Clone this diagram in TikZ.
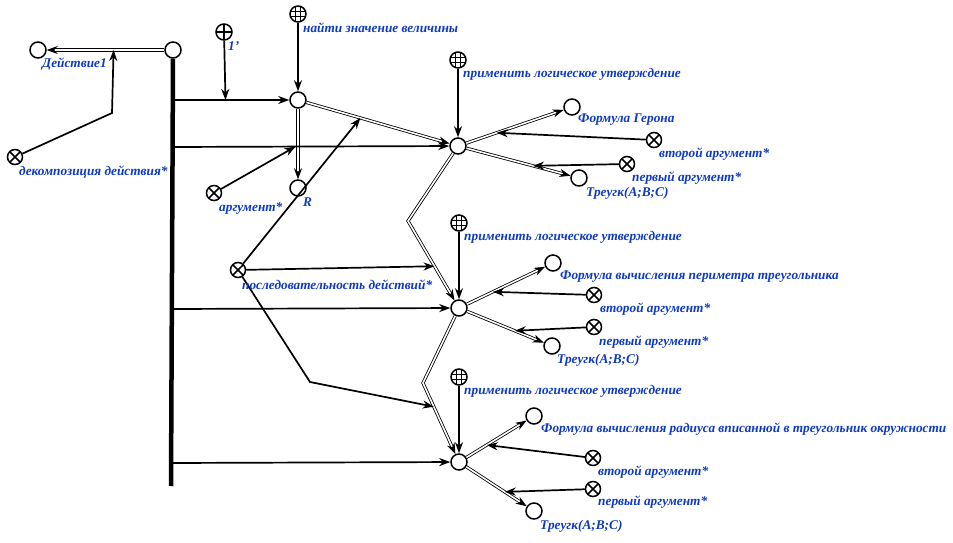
\documentclass[tikz,border=0pt]{standalone}
\usepackage{fontspec}
\setmainfont{Liberation Serif}
\usetikzlibrary{arrows.meta,calc}
\definecolor{lblblue}{RGB}{14,58,190}

\begin{document}
\begin{tikzpicture}[x=1pt, y=-1pt,
    >={Stealth[length=11pt,width=8pt,inset=3.5pt]},
    pt/.style={circle, draw=black, line width=1.5pt, fill=white, minimum size=16pt, inner sep=0pt},
    op/.style={pt, minimum size=15pt, path picture={
        \draw[line width=1.5pt] ([shift={(45:9pt)}]path picture bounding box.center) -- ([shift={(225:9pt)}]path picture bounding box.center);
        \draw[line width=1.5pt] ([shift={(135:9pt)}]path picture bounding box.center) -- ([shift={(315:9pt)}]path picture bounding box.center);}},
    pl/.style={pt, path picture={
        \draw[line width=1.2pt] (path picture bounding box.north) -- (path picture bounding box.south);
        \draw[line width=1.2pt] (path picture bounding box.west) -- (path picture bounding box.east);}},
    gr/.style={pt, path picture={
        \foreach \k in {-2.7,2.7} {
          \draw[line width=1pt] ([xshift=\k pt]path picture bounding box.north) -- ([xshift=\k pt]path picture bounding box.south);
          \draw[line width=1pt] ([yshift=\k pt]path picture bounding box.west) -- ([yshift=\k pt]path picture bounding box.east);}}},
    lbl/.style={text=lblblue, font=\bfseries\itshape\fontsize{13.3}{15}\selectfont, anchor=west, inner sep=0pt},
    lnk/.style={draw=black, line width=1.7pt, ->},
    dbl/.style={draw=black, line width=0.8pt, double=white, double distance=1.6pt, ->}]
  \useasboundingbox (0,0) rectangle (953,543);

  % points
  \node[pt] (root) at (173,50) {};
  \node[pt] (act) at (38,50) {};
  \node[op] (dec) at (15,157) {};
  \node[pl] (one) at (224,32) {};
  \node[gr] (find) at (298,14) {};
  \node[pt] (a) at (298,100) {};
  \node[pt] (r) at (298,188) {};
  \node[op] (arg) at (214,193) {};
  \node[op] (seq) at (238,270) {};

  \node[gr] (gb) at (458,60) {};
  \node[pt] (b) at (458,146) {};
  \node[pt] (her) at (572,107) {};
  \node[op] (b2) at (654,140) {};
  \node[op] (b1) at (627,164) {};
  \node[pt] (tb) at (579,178) {};

  \node[gr] (gc) at (459,223) {};
  \node[pt] (c) at (459,308) {};
  \node[pt] (per) at (553,263) {};
  \node[op] (c2) at (594,295) {};
  \node[op] (c1) at (594,327) {};
  \node[pt] (tc) at (552,346) {};

  \node[gr] (gd) at (459,377) {};
  \node[pt] (d) at (459,462) {};
  \node[pt] (rad) at (534,416) {};
  \node[op] (d2) at (593,458) {};
  \node[op] (d1) at (593,489) {};
  \node[pt] (td) at (534,511) {};

  % bar
  \coordinate (bot) at (171,486);
  \coordinate (h1) at (173,100);
  \coordinate (h2) at (173,147);
  \coordinate (h3) at (172,309);
  \coordinate (h4) at (171,463);
  \draw[line width=4.5pt] (root.south) -- (bot);

  % bends
  \coordinate (kd) at (112,113);
  \coordinate (kb) at (408,221);
  \coordinate (kc) at (423,383);
  \coordinate (ks) at (310,382);

  % double lines
  \path[dbl] (root) -- (act);
  \path[dbl] (a) -- (r);
  \path[dbl] (a) -- (b);
  \path[dbl] (b) -- (her);
  \path[dbl] (b) -- (tb);
  \path[dbl] (b) -- (kb) -- (c);
  \path[dbl] (c) -- (per);
  \path[dbl] (c) -- (tc);
  \path[dbl] (c) -- (kc) -- (d);
  \path[dbl] (d) -- (rad);
  \path[dbl] (d) -- (td);

  % ends on lines
  \coordinate (t0) at ($(root)!0.44!(act)$);
  \coordinate (t1) at ($(h1)!0.42!(a)$);
  \coordinate (t2) at ($(h2)!0.43!(b)$);
  \coordinate (t3) at ($(a)!0.39!(b)$);
  \coordinate (t4) at ($(kb)!0.52!(c)$);
  \coordinate (t5) at ($(kc)!0.3!(d)$);

  \path[lnk] (dec) -- (kd) -- (t0);
  \path[lnk] (one) -- (t1);
  \path[lnk] (find) -- (a);
  \path[lnk] (h1) -- (a);
  \path[lnk] (h2) -- (b);
  \path[lnk] (h3) -- (c);
  \path[lnk] (h4) -- (d);
  \path[lnk] (arg) -- (t2);
  \path[lnk] (seq) -- (t3);
  \path[lnk] (seq) -- (t4);
  \path[lnk] (seq) -- (ks) -- (t5);
  \path[lnk] (gb) -- (b);
  \path[lnk] (gc) -- (c);
  \path[lnk] (gd) -- (d);
  \path[lnk] (b2) -- ($(b)!0.34!(her)$);
  \path[lnk] (b1) -- ($(b)!0.62!(tb)$);
  \path[lnk] (c2) -- ($(c)!0.36!(per)$);
  \path[lnk] (c1) -- ($(c)!0.6!(tc)$);
  \path[lnk] (d2) -- ($(d)!0.37!(rad)$);
  \path[lnk] (d1) -- ($(d)!0.61!(td)$);

  % labels
  \node[lbl] (lact) at (42,64) {Действие1};
  \node[lbl] (ldec) at (19,172) {декомпозиция действия*};
  \node[lbl] (lone) at (228,46) {1’};
  \node[lbl] (lfind) at (303,28) {найти значение величины};
  \node[lbl] (lr) at (303,202) {R};
  \node[lbl] (larg) at (219,209) {аргумент*};
  \node[lbl] (lseq) at (242,285) {последовательность действий*};
  \node[lbl] (lgb) at (463,74) {применить логическое утверждение};
  \node[lbl] (lher) at (578,120) {Формула Герона};
  \node[lbl] (lb2) at (659,154) {второй аргумент*};
  \node[lbl] (lb1) at (632,178) {первый аргумент*};
  \node[lbl] (ltb) at (586,193) {Треугк(A;B;C)};
  \node[lbl] (lgc) at (464,237) {применить логическое утверждение};
  \node[lbl] (lper) at (560,277) {Формула вычисления периметра треугольника};
  \node[lbl] (lc2) at (600,309) {второй аргумент*};
  \node[lbl] (lc1) at (599,342) {первый аргумент*};
  \node[lbl] (ltc) at (557,360) {Треугк(A;B;C)};
  \node[lbl] (lgd) at (464,391) {применить логическое утверждение};
  \node[lbl] (lrad) at (541,429) {Формула вычисления радиуса вписанной в треугольник окружности};
  \node[lbl] (ld2) at (598,472) {второй аргумент*};
  \node[lbl] (ld1) at (598,502) {первый аргумент*};
  \node[lbl] (ltd) at (540,526) {Треугк(A;B;C)};
\end{tikzpicture}
\end{document}
